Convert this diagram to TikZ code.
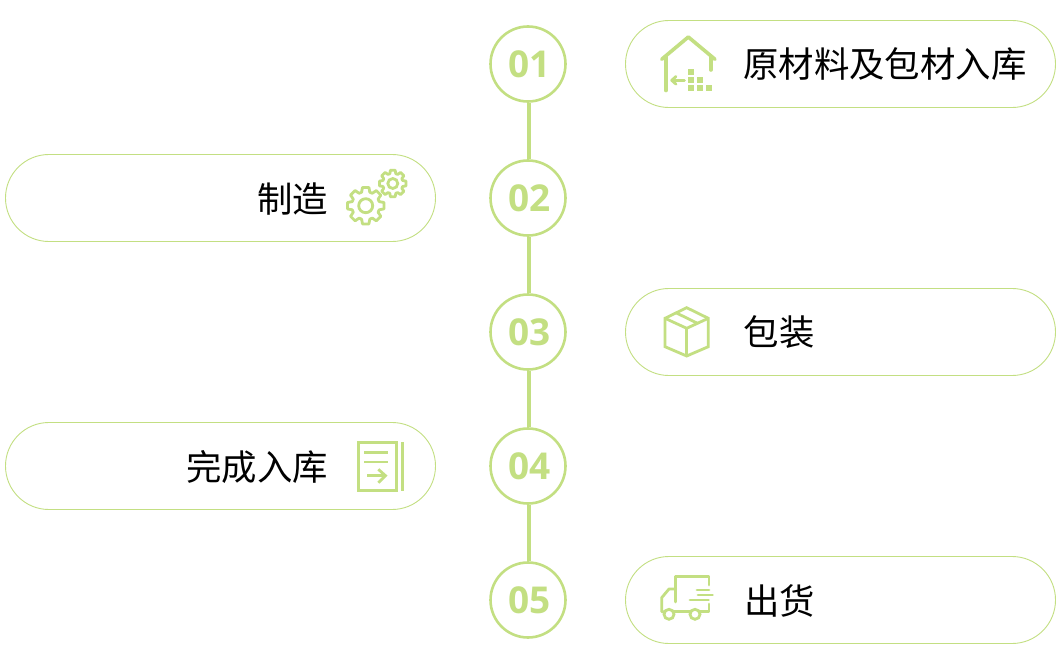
\documentclass[tikz,border=0pt]{standalone}
\usepackage{fontspec}
\setmainfont{Open Sans}
\newfontfamily\cjk{Noto Sans CJK SC}
\definecolor{lg}{HTML}{C3DF82}
\usetikzlibrary{calc}
\tikzset{
  x=1pt,y=-1pt,
  pill/.style={draw=lg,line width=0.9pt,fill=white,rounded corners=43.4pt,minimum width=430pt,minimum height=87pt,inner sep=0pt},
  num/.style={circle,draw=lg,line width=2.6pt,fill=white,minimum size=75pt,inner sep=0pt,text=lg,font=\fontsize{37}{37}\selectfont\bfseries},
  numtxt/.style={inner sep=0pt,text=lg,font=\fontsize{37}{37}\selectfont\bfseries},
  link/.style={draw=lg,line width=3.8pt},
  lab/.style={inner sep=0pt,text=black,font=\fontsize{35.4}{40}\cjk},
  ic/.style={draw=lg,line width=2.8pt,line join=miter},
  icr/.style={ic,line cap=round,line join=round},
  sq/.style={fill=lg,draw=none}
}
\newcommand{\gearpath}[3]{% cx cy outer
  \pgfmathsetmacro{\gro}{#3}\pgfmathsetmacro{\gri}{#3*0.76}
  \draw[ic,line join=round] ({#1+\gro*cos(-10)},{#2+\gro*sin(-10)})
  \foreach \k in {0,...,7}{
    -- ({#1+\gro*cos(\k*45+10)},{#2+\gro*sin(\k*45+10)})
    -- ({#1+\gri*cos(\k*45+17)},{#2+\gri*sin(\k*45+17)})
    -- ({#1+\gri*cos(\k*45+28)},{#2+\gri*sin(\k*45+28)})
    -- ({#1+\gro*cos(\k*45+35)},{#2+\gro*sin(\k*45+35)})
  } -- cycle;
}
\begin{document}
\begin{tikzpicture}
\useasboundingbox (0,0) rectangle (1063,669);
% circles
\node[num,text=white] (n1) at (528,64) {};
\node[num] (n2) at (528,198) {};
\node[num] (n3) at (528,332) {};
\node[num] (n4) at (528,466) {};
\node[num] (n5) at (528,600) {};
\node[numtxt] (d1) at (529.5,64) {01};
\node[numtxt] (d2) at (529.5,198) {02};
\node[numtxt] (d3) at (529.5,332) {03};
\node[numtxt] (d4) at (529.5,466) {04};
\node[numtxt] (d5) at (529.5,600) {05};
\draw[link] ([xshift=1pt]n1.south) -- ([xshift=1pt]n2.north);
\draw[link] ([xshift=1pt]n2.south) -- ([xshift=1pt]n3.north);
\draw[link] ([xshift=1pt]n3.south) -- ([xshift=1pt]n4.north);
\draw[link] ([xshift=1pt]n4.south) -- ([xshift=1pt]n5.north);
% pills
\node[pill] (p1) at (840.5,64) {};
\node[pill] (p2) at (220.5,198) {};
\node[pill] (p3) at (840.5,332) {};
\node[pill] (p4) at (220.5,466) {};
\node[pill] (p5) at (840.5,600) {};
% labels
\node[lab,anchor=west] (t1) at (743,64) {原材料及包材入库};
\node[lab,anchor=east] (t2) at (328,199) {制造};
\node[lab,anchor=west] (t3) at (743.5,332) {包装};
\node[lab,anchor=east] (t4) at (328,467) {完成入库};
\node[lab,anchor=west] (t5) at (744,601) {出货};
% house icon
\draw[icr,line width=3.6pt] (661.7,59.3) -- (688.3,37) -- (715,59.3);
\draw[icr,line width=3.6pt] (666,57) -- (666,90.5);
\draw[icr,line width=3.6pt] (710.7,57) -- (710.7,70);
\draw[icr] (684.5,80.3) -- (673,80.3);
\draw[icr] (676,76.5) -- (671.7,80.3) -- (676,84.2);
\foreach \cx/\cy in {691.3/72.3,691.3/80.3,700.3/80.3,691.3/88.3,700.3/88.3,709.3/88.3}
  \fill[sq] (\cx-3,\cy-3) rectangle (\cx+3,\cy+3);
% gears
\gearpath{365.7}{205.7}{18.5}
\draw[ic] (365.7,205.7) circle (7);
\gearpath{392.8}{183.5}{13.5}
\draw[ic] (392.8,183.5) circle (5);
% box
\draw[ic] (686.7,307.7) -- (708.3,318.3) -- (708.3,346.7) -- (686.7,356) -- (665,346.7) -- (665,318.3) -- cycle;
\draw[ic] (665,318.3) -- (686.7,328.3) -- (708.3,318.3);
\draw[ic] (686.7,328.3) -- (686.7,356);
\draw[ic] (675.7,312.6) -- (697.5,323.3);
% document
\draw[ic,line width=3pt] (358.2,442.7) rectangle (396.2,490.7);
\draw[ic,line width=3pt] (402.5,442) -- (402.5,491);
\draw[ic] (364.3,452.3) -- (388.3,452.3);
\draw[ic] (364.3,462) -- (388.3,462);
\draw[ic] (367.3,475.7) -- (385.5,475.7);
\draw[ic] (378.3,469.3) -- (385.5,475.7) -- (378.3,482.7);
% truck
\draw[icr] (675.7,602) -- (675.7,576.7) -- (709,576.7) -- (709,585);
\draw[icr] (709,604) -- (709,611.7) -- (700,611.7);
\draw[icr] (690,611.7) -- (674,611.7);
\draw[icr] (664,611.7) -- (661.7,611.7) -- (661.7,597.7) -- (669,589) -- (675.7,589);
\draw[ic] (695,614.3) circle (5);
\draw[ic] (669,614.3) circle (5);
\draw[icr] (697,590) -- (709,590);
\draw[icr] (698,595) -- (712.5,595);
\draw[icr] (690,600) -- (708.5,600);
\end{tikzpicture}
\end{document}
